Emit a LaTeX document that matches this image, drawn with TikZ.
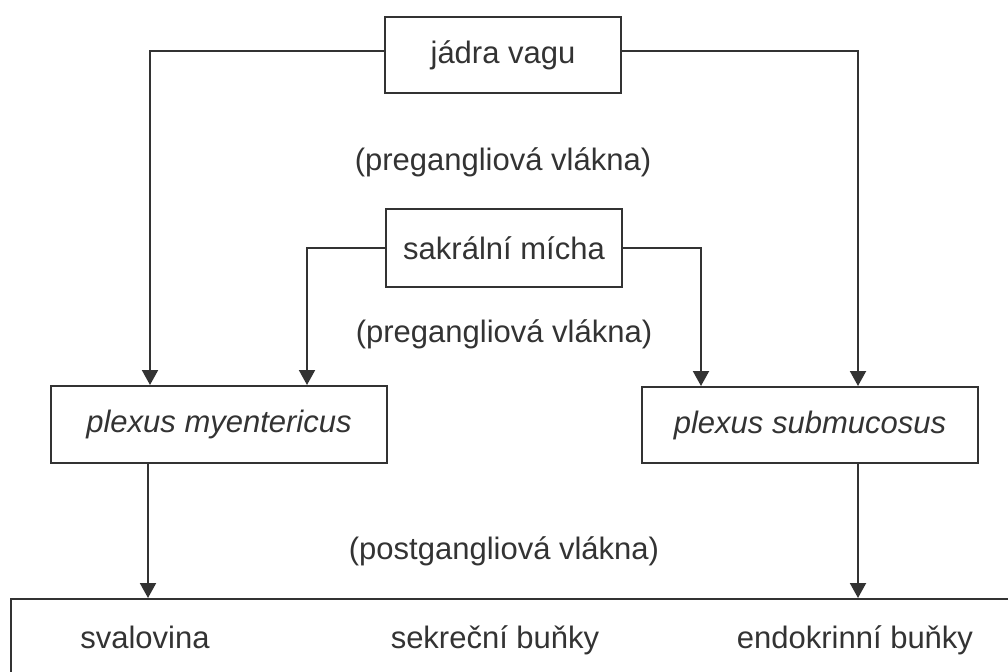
\documentclass[tikz,border=0pt]{standalone}
\usepackage{fontspec}
\setmainfont{Liberation Sans}
\usetikzlibrary{arrows.meta}
\definecolor{ink}{HTML}{333333}
\begin{document}
\begin{tikzpicture}[x=0.5pt,y=-0.5pt,
  box/.style={draw=ink,line width=1pt,rectangle,inner sep=0pt,text=ink},
  lbl/.style={inner sep=0pt,text=ink},
  arr/.style={draw=ink,line width=1pt,-{Triangle[width=8pt,length=7.5pt]}},
  every node/.append style={font=\fontsize{15.5}{18}\selectfont}]
\useasboundingbox (0,0) rectangle (1008,671);
\clip (0,0) rectangle (1008,671);

% source nuclei
\node[box,minimum width=118pt,minimum height=38pt] (jv) at (503,55) {jádra vagu};
\node[box,minimum width=118pt,minimum height=39pt] (sm) at (504,248) {sakrální mícha};

% enteric plexuses
\node[box,minimum width=168pt,minimum height=38.5pt] (pm) at (219,424.5) {\itshape plexus myentericus};
\node[box,minimum width=168pt,minimum height=38pt] (ps) at (810,425) {\itshape plexus submucosus};

% target tissues
\node[box,minimum width=509.5pt,minimum height=50.5pt] (tg) at (520.5,649.5) {};
\node[lbl,anchor=base] (t1) at (145,648) {svalovina};
\node[lbl,anchor=base] (t2) at (495,648) {sekreční buňky};
\node[lbl,anchor=base] (t3) at (855,648) {endokrinní buňky};

% fibre labels
\node[lbl] (l1) at (503,162) {(pregangliová vlákna)};
\node[lbl] (l2) at (504,334) {(pregangliová vlákna)};
\node[lbl] (l3) at (504,551) {(postgangliová vlákna)};

% vertical line positions
\coordinate (xa) at (150,0);
\coordinate (xb) at (307,0);
\coordinate (xc) at (701,0);
\coordinate (xd) at (858,0);
\coordinate (xe) at (148,0);

% preganglionic pathways
\draw[arr] ([yshift=2pt]jv.west) -| (pm.north -| xa);
\draw[arr] ([yshift=2pt]jv.east) -| (ps.north -| xd);
\draw[arr] (sm.west) -| (pm.north -| xb);
\draw[arr] (sm.east) -| (ps.north -| xc);

% postganglionic pathways
\draw[arr] (pm.south -| xe) -- (tg.north -| xe);
\draw[arr] (ps.south -| xd) -- (tg.north -| xd);
\end{tikzpicture}
\end{document}
